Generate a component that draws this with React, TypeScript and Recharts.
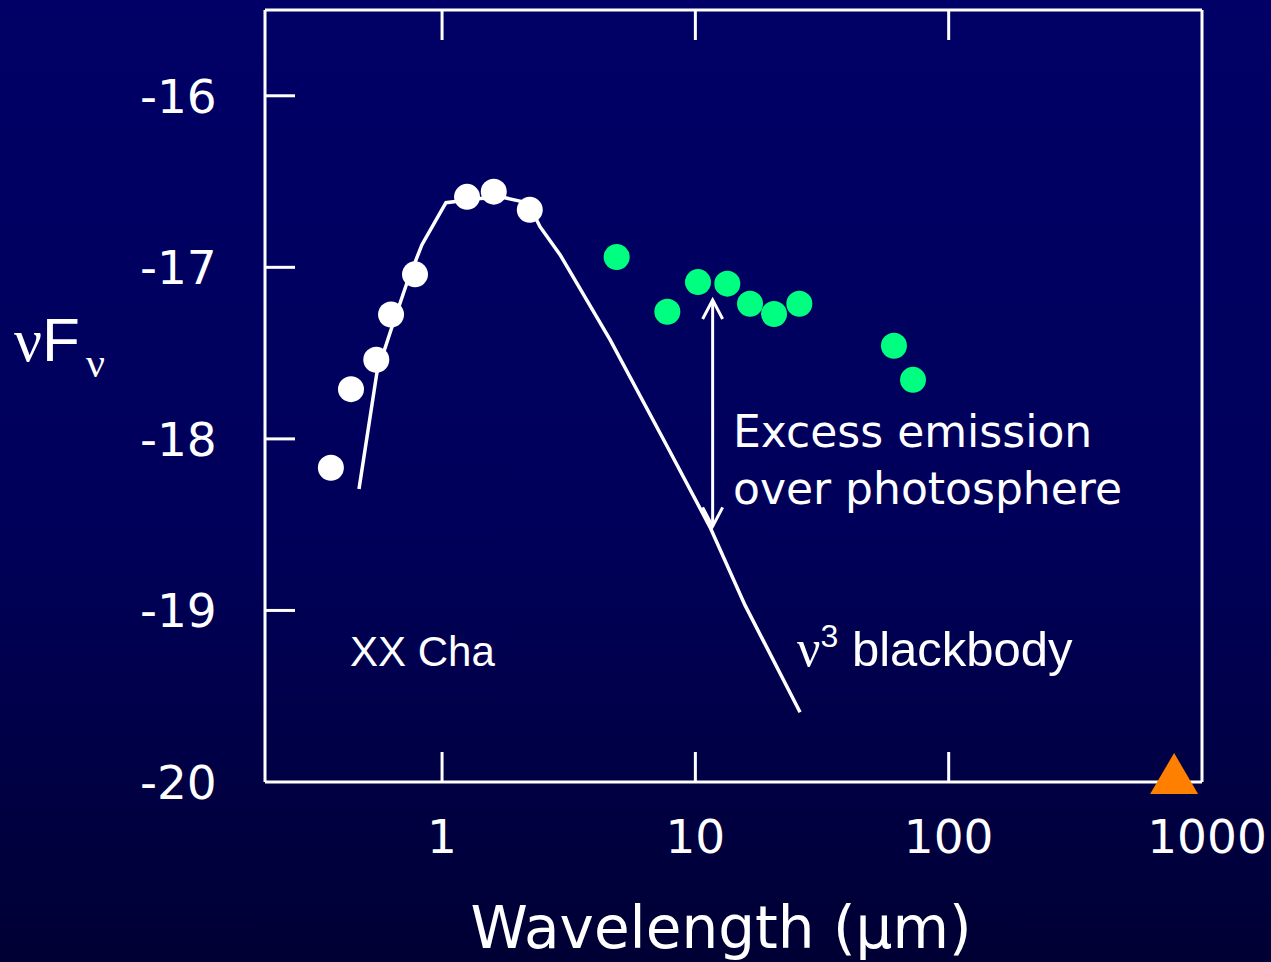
import { Scatter, ScatterChart, XAxis, YAxis } from 'recharts'

document.body.style.margin = '0'

// optical / near-IR photometry (white dots)
const photometry = [
  { x: 0.364, y: -18.168 },
  { x: 0.437, y: -17.71 },
  { x: 0.55, y: -17.539 },
  { x: 0.629, y: -17.275 },
  { x: 0.782, y: -17.041 },
  { x: 1.255, y: -16.589 },
  { x: 1.6, y: -16.559 },
  { x: 2.22, y: -16.665 },
]

// mid/far-IR points (green dots)
const irExcess = [
  { x: 4.89, y: -16.94 },
  { x: 7.75, y: -17.259 },
  { x: 10.24, y: -17.086 },
  { x: 13.37, y: -17.095 },
  { x: 16.43, y: -17.212 },
  { x: 20.44, y: -17.272 },
  { x: 25.73, y: -17.212 },
  { x: 60.8, y: -17.457 },
  { x: 72.3, y: -17.656 },
]

// mm upper limit (orange triangle)
const mmPoint = [{ x: 776, y: -20 }]

// photosphere model
const blackbody = [
  { x: 0.47, y: -18.292 },
  { x: 0.553, y: -17.615 },
  { x: 0.629, y: -17.364 },
  { x: 0.727, y: -17.09 },
  { x: 0.833, y: -16.868 },
  { x: 1.036, y: -16.623 },
  { x: 1.412, y: -16.599 },
  { x: 1.756, y: -16.593 },
  { x: 2.068, y: -16.617 },
  { x: 2.224, y: -16.646 },
  { x: 2.436, y: -16.763 },
  { x: 2.922, y: -16.926 },
  { x: 4.603, y: -17.422 },
  { x: 7.8, y: -18.053 },
  { x: 11.42, y: -18.514 },
  { x: 15.7, y: -18.969 },
  { x: 25.9, y: -19.593 },
]

const excessArrow = [
  { x: 11.7, y: -17.19 },
  { x: 11.7, y: -18.51 },
]

const xTicks = [1, 10, 100, 1000]
const yTicks = [-20, -19, -18, -17, -16]

const PLOT_TOP = 10
const TICK_LEN = 30
const WHITE = '#ffffff'
const tickFont = '"DejaVu Sans", Verdana, sans-serif'
const sansFont = '"Liberation Sans", Arial, sans-serif'
const serifFont = '"Liberation Serif", serif'

// bottom labels, plus the inward ticks on both the bottom and top frame edges
function BottomTick({ x, y, payload }: any) {
  const v = payload.value
  const inner = v !== 1000
  return (
    <g>
      {inner && <line x1={x} y1={y} x2={x} y2={y - TICK_LEN} stroke={WHITE} strokeWidth={3} />}
      {inner && <line x1={x} y1={PLOT_TOP} x2={x} y2={PLOT_TOP + TICK_LEN} stroke={WHITE} strokeWidth={3} />}
      <text x={v === 1000 ? x + 5 : x} y={y + 71} textAnchor="middle" fill={WHITE} fontSize={47} fontFamily={tickFont}>
        {v}
      </text>
    </g>
  )
}

function LeftTick({ x, y, payload }: any) {
  const v = payload.value
  return (
    <g>
      {v !== -20 && <line x1={x} y1={y} x2={x + TICK_LEN} y2={y} stroke={WHITE} strokeWidth={3} />}
      <text x={140} y={y + 17} textAnchor="start" fill={WHITE} fontSize={47} fontFamily={tickFont}>
        {v}
      </text>
    </g>
  )
}

function RightTick({ x, y, payload }: any) {
  if (payload.value === -20) return <g />
  return <line x1={x} y1={y} x2={x - TICK_LEN} y2={y} stroke={WHITE} strokeWidth={3} />
}

const whiteDot = (p: any) => <circle cx={p.cx} cy={p.cy} r={13} fill={WHITE} />
const greenDot = (p: any) => <circle cx={p.cx} cy={p.cy} r={13} fill="#00ff80" />
const triangle = (p: any) => (
  <polygon
    points={`${p.cx},${p.cy - 29} ${p.cx - 24},${p.cy + 12} ${p.cx + 24},${p.cy + 12}`}
    fill="#ff8000"
  />
)
const noDot = () => <g />
const arrowHead = (p: any) => {
  const s = p.index === 0 ? 1 : -1
  return (
    <polyline
      points={`${p.cx - 10},${p.cy + s * 19} ${p.cx},${p.cy} ${p.cx + 10},${p.cy + s * 19}`}
      fill="none"
      stroke={WHITE}
      strokeWidth={3}
    />
  )
}

const axisLine = { stroke: WHITE, strokeWidth: 3 }

export default function App() {
  return (
    <div
      style={{
        position: 'relative',
        width: 1271,
        height: 962,
        overflow: 'hidden',
        background: 'linear-gradient(to bottom, #000066 0%, #000060 30%, #00005a 55%, #000034 100%)',
      }}
    >
      <ScatterChart width={1271} height={962} margin={{ top: 8, right: 0, bottom: 0, left: 0 }}>
        <XAxis
          dataKey="x"
          type="number"
          scale="log"
          domain={[0.2, 1000]}
          ticks={xTicks}
          height={180}
          axisLine={axisLine}
          tickLine={false}
          tickSize={0}
          tickMargin={0}
          tick={<BottomTick />}
          interval={0}
        />
        <XAxis
          xAxisId="top"
          orientation="top"
          dataKey="x"
          type="number"
          scale="log"
          domain={[0.2, 1000]}
          height={2}
          axisLine={axisLine}
          tickLine={false}
          tick={false}
        />
        <YAxis
          dataKey="y"
          type="number"
          domain={[-20, -15.5]}
          ticks={yTicks}
          width={265}
          axisLine={axisLine}
          tickLine={false}
          tickSize={0}
          tickMargin={0}
          tick={<LeftTick />}
          interval={0}
        />
        <YAxis
          yAxisId="right"
          orientation="right"
          dataKey="y"
          type="number"
          domain={[-20, -15.5]}
          ticks={yTicks}
          width={69}
          axisLine={axisLine}
          tickLine={false}
          tickSize={0}
          tickMargin={0}
          tick={<RightTick />}
          interval={0}
        />
        <Scatter
          data={blackbody}
          line={{ stroke: WHITE, strokeWidth: 3.5 }}
          lineType="joint"
          shape={noDot}
          isAnimationActive={false}
        />
        <Scatter
          data={excessArrow}
          line={{ stroke: WHITE, strokeWidth: 3 }}
          lineType="joint"
          shape={arrowHead}
          isAnimationActive={false}
        />
        <Scatter data={photometry} shape={whiteDot} isAnimationActive={false} />
        <Scatter data={irExcess} shape={greenDot} isAnimationActive={false} />
        <Scatter data={mmPoint} shape={triangle} isAnimationActive={false} />
      </ScatterChart>
      <svg
        width={1271}
        height={962}
        style={{ position: 'absolute', left: 0, top: 0, pointerEvents: 'none' }}
      >
        <text x={733} y={447} fill={WHITE} fontSize={44} fontFamily={tickFont}>
          Excess emission
        </text>
        <text x={733} y={504} fill={WHITE} fontSize={44} fontFamily={tickFont}>
          over photosphere
        </text>
        <text x={350} y={666} fill={WHITE} fontSize={42} fontFamily={sansFont}>
          XX Cha
        </text>
        <text x={797} y={666} fill={WHITE} fontFamily={sansFont} fontSize={49}>
          <tspan fontFamily={serifFont} fontSize={52}>ν</tspan>
          <tspan fontSize={32} dy={-19}>3</tspan>
          <tspan dy={19}> blackbody</tspan>
        </text>
        <text x={14} y={361} fill={WHITE} fontSize={62}>
          <tspan fontFamily={serifFont}>ν</tspan>
          <tspan fontFamily={sansFont}>F</tspan>
          <tspan fontFamily={serifFont} fontSize={42} dx={6} dy={16}>ν</tspan>
        </text>
        <text x={721} y={948} textAnchor="middle" fill={WHITE} fontSize={58} fontFamily={tickFont}>
          Wavelength (μm)
        </text>
      </svg>
    </div>
  )
}
